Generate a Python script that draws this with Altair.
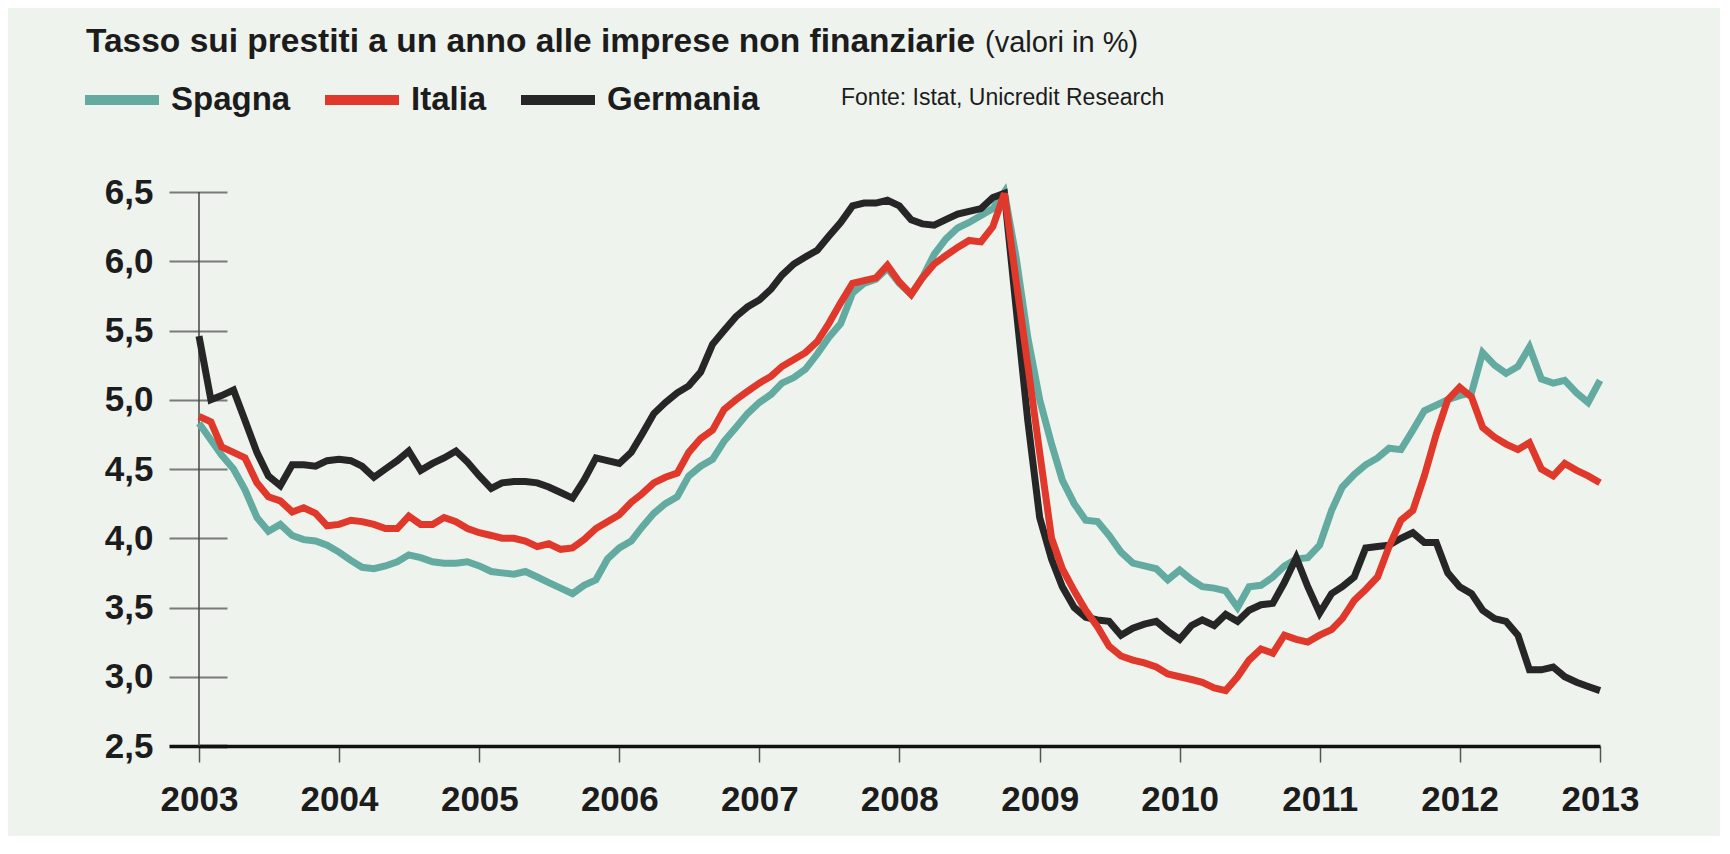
import altair as alt
import pandas as pd

# ---------------- data (monthly, Jan 2003 - Jan 2013) ----------------
mesi = pd.date_range("2003-01-01", periods=121, freq="MS").strftime("%Y-%m-%d").tolist()

spagna = [
    4.83, 4.71, 4.60, 4.50, 4.35, 4.15, 4.05, 4.10, 4.02, 3.99, 3.98, 3.95,   # 2003
    3.90, 3.84, 3.79, 3.78, 3.80, 3.83, 3.88, 3.86, 3.83, 3.82, 3.82, 3.83,   # 2004
    3.80, 3.76, 3.75, 3.74, 3.76, 3.72, 3.68, 3.64, 3.60, 3.66, 3.70, 3.85,   # 2005
    3.93, 3.98, 4.08, 4.18, 4.25, 4.30, 4.45, 4.52, 4.57, 4.70, 4.80, 4.90,   # 2006
    4.98, 5.04, 5.12, 5.16, 5.22, 5.33, 5.45, 5.55, 5.77, 5.84, 5.87, 5.95,   # 2007
    5.84, 5.76, 5.88, 6.05, 6.16, 6.24, 6.28, 6.33, 6.38, 6.50, 6.02, 5.45,   # 2008
    5.00, 4.68, 4.42, 4.25, 4.13, 4.12, 4.02, 3.90, 3.82, 3.80, 3.78, 3.70,   # 2009
    3.77, 3.70, 3.65, 3.64, 3.62, 3.50, 3.65, 3.66, 3.72, 3.80, 3.85, 3.86,   # 2010
    3.95, 4.20, 4.37, 4.46, 4.53, 4.58, 4.65, 4.64, 4.78, 4.92, 4.96, 5.00,   # 2011
    5.03, 5.05, 5.34, 5.25, 5.19, 5.24, 5.38, 5.15, 5.12, 5.14, 5.05, 4.98,   # 2012
    5.14,                                                                     # 2013
]

italia = [
    4.88, 4.84, 4.66, 4.62, 4.58, 4.40, 4.30, 4.27, 4.19, 4.22, 4.18, 4.09,
    4.10, 4.13, 4.12, 4.10, 4.07, 4.07, 4.16, 4.10, 4.10, 4.15, 4.12, 4.07,
    4.04, 4.02, 4.00, 4.00, 3.98, 3.94, 3.96, 3.92, 3.93, 3.99, 4.07, 4.12,
    4.17, 4.26, 4.32, 4.40, 4.44, 4.47, 4.62, 4.72, 4.78, 4.93, 5.00, 5.06,
    5.12, 5.17, 5.24, 5.29, 5.34, 5.42, 5.55, 5.70, 5.84, 5.86, 5.88, 5.97,
    5.85, 5.76, 5.88, 5.98, 6.04, 6.10, 6.15, 6.14, 6.25, 6.49, 5.85, 5.25,
    4.62, 4.00, 3.78, 3.62, 3.48, 3.36, 3.22, 3.15, 3.12, 3.10, 3.07, 3.02,
    3.00, 2.98, 2.96, 2.92, 2.90, 3.00, 3.12, 3.20, 3.17, 3.30, 3.27, 3.25,
    3.30, 3.34, 3.42, 3.55, 3.63, 3.72, 3.94, 4.13, 4.20, 4.45, 4.75, 5.00,
    5.09, 5.02, 4.80, 4.73, 4.68, 4.64, 4.69, 4.50, 4.45, 4.54, 4.49, 4.45,
    4.40,
]

germania = [
    5.46, 5.00, 5.03, 5.07, 4.85, 4.62, 4.45, 4.38, 4.53, 4.53, 4.52, 4.56,
    4.57, 4.56, 4.52, 4.44, 4.50, 4.56, 4.63, 4.49, 4.54, 4.58, 4.63, 4.55,
    4.45, 4.36, 4.40, 4.41, 4.41, 4.40, 4.37, 4.33, 4.29, 4.42, 4.58, 4.56,
    4.54, 4.62, 4.75, 4.90, 4.98, 5.05, 5.10, 5.20, 5.40, 5.50, 5.60, 5.67,
    5.72, 5.80, 5.90, 5.98, 6.03, 6.08, 6.18, 6.28, 6.40, 6.42, 6.42, 6.44,
    6.40, 6.30, 6.27, 6.26, 6.30, 6.34, 6.36, 6.38, 6.46, 6.49, 5.65, 4.85,
    4.15, 3.85, 3.65, 3.50, 3.43, 3.41, 3.40, 3.30, 3.35, 3.38, 3.40, 3.33,
    3.27, 3.37, 3.41, 3.37, 3.45, 3.40, 3.48, 3.52, 3.53, 3.68, 3.86, 3.65,
    3.46, 3.60, 3.65, 3.72, 3.93, 3.94, 3.95, 4.00, 4.04, 3.97, 3.97, 3.75,
    3.65, 3.60, 3.48, 3.42, 3.40, 3.30, 3.05, 3.05, 3.07, 3.00, 2.96, 2.93,
    2.90,
]

paesi = ["Spagna", "Italia", "Germania"]
colori = ["#63aba1", "#e0392b", "#262626"]
anni = list(range(2003, 2014))
tick_y = [2.5, 3.0, 3.5, 4.0, 4.5, 5.0, 5.5, 6.0, 6.5]

titolo = "Tasso sui prestiti a un anno alle imprese non finanziarie"
titolo_unita = "(valori in %)"
fonte = "Fonte: Istat, Unicredit Research"

df = pd.concat([
    pd.DataFrame({"data": mesi, "paese": "Spagna", "tasso": spagna}),
    pd.DataFrame({"data": mesi, "paese": "Germania", "tasso": germania}),
    pd.DataFrame({"data": mesi, "paese": "Italia", "tasso": italia}),
], ignore_index=True)

FONT = "Liberation Sans, Arial, Helvetica, sans-serif"
INK = "#1c1c1c"

x_scale = alt.Scale(type="utc", domain=[alt.DateTime(year=2003, month=1, date=1, utc=True),
                                        alt.DateTime(year=2013, month=1, date=1, utc=True)])
y_scale = alt.Scale(domain=[2.5, 6.5], nice=False, zero=False)

x_axis = alt.Axis(
    values=[alt.DateTime(year=a, month=1, date=1, utc=True) for a in anni],
    format="%Y", title=None, grid=False,
    labelFont=FONT, labelFontSize=35, labelFontWeight="bold", labelColor=INK,
    labelPadding=20, labelFlush=False, labelOverlap=False, labelBound=False,
    tickSize=16, tickColor="#555555", tickWidth=1.5,
    domainColor="#111111", domainWidth=3.5,
)

y_axis = alt.Axis(
    values=tick_y, title=None, grid=False, domain=False,
    labelExpr="replace(format(datum.value, '.1f'), '.', ',')",
    labelFont=FONT, labelFontSize=35, labelFontWeight="bold", labelColor=INK,
    labelPadding=16, offset=-28, tickSize=58,
    tickColor={"condition": {"test": "datum.value == 2.5", "value": "#111111"}, "value": "#7a7a7a"},
    tickWidth={"condition": {"test": "datum.value == 2.5", "value": 3.5}, "value": 2},
)

legend = alt.Legend(
    title=None, orient="none", legendX=-119, legendY=-134, direction="horizontal",
    symbolType="stroke", symbolSize=5476, symbolStrokeWidth=10, symbolOpacity=1,
    labelFont=FONT, labelFontSize=33, labelFontWeight="bold", labelColor=INK,
    labelOffset=7, columnPadding=14, padding=0, labelLimit=400,
)

color = alt.Color("paese:N", scale=alt.Scale(domain=paesi, range=colori), legend=legend)

base = alt.Chart(df)

def linea(p):
    return base.transform_filter(alt.datum.paese == p).mark_line(strokeWidth=7).encode(
        x=alt.X("data:T", scale=x_scale, axis=x_axis),
        y=alt.Y("tasso:Q", scale=y_scale, axis=y_axis),
        color=color,
    )

asse_v = alt.Chart(pd.DataFrame({"x": [mesi[0]], "y": [6.5], "y2": [2.5]})).mark_rule(
    color="#444444", strokeWidth=1.5
).encode(x="x:T", y="y:Q", y2="y2:Q")

t_bold = alt.Chart(pd.DataFrame({"t": [titolo]})).mark_text(
    align="left", baseline="alphabetic", font=FONT, fontSize=33.5, fontWeight="bold", color=INK
).encode(text="t:N", x=alt.value(-113), y=alt.value(-140))

t_unit = alt.Chart(pd.DataFrame({"t": [titolo_unita]})).mark_text(
    align="left", baseline="alphabetic", font=FONT, fontSize=29, color=INK
).encode(text="t:N", x=alt.value(786), y=alt.value(-140))

t_fonte = alt.Chart(pd.DataFrame({"t": [fonte]})).mark_text(
    align="left", baseline="alphabetic", font=FONT, fontSize=23, color=INK
).encode(text="t:N", x=alt.value(642), y=alt.value(-87))

chart = alt.layer(
    asse_v, linea("Spagna"), linea("Germania"), linea("Italia"), t_bold, t_unit, t_fonte
).properties(
    width=1401, height=554,
    autosize=alt.AutoSizeParams(type="none"),
    padding={"left": 191, "top": 184, "right": 120, "bottom": 90},
    background="#eef3ed",
).configure_view(strokeWidth=0)

chart.save("out.html", embed_options={"renderer": "svg", "actions": False})
